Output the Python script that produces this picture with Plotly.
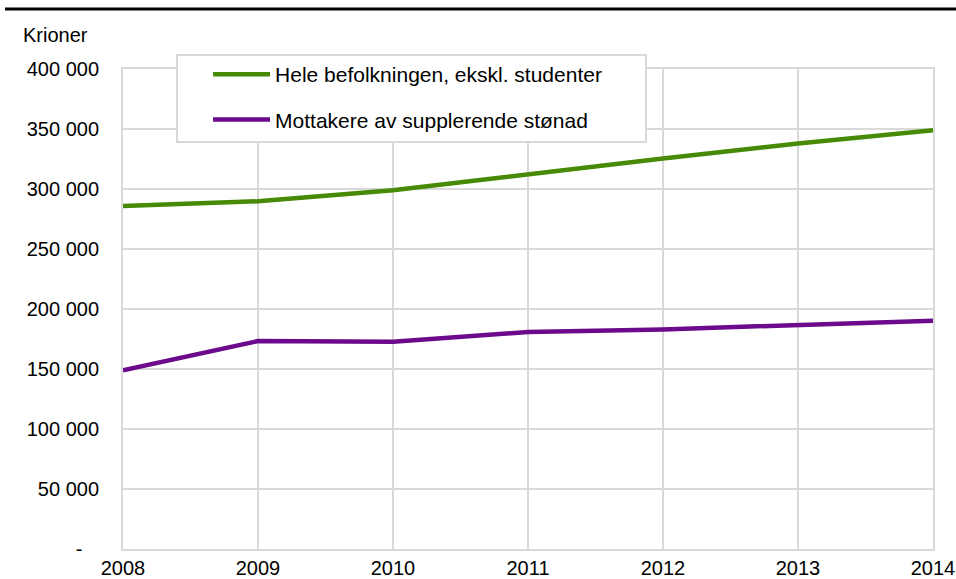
import plotly.graph_objects as go

# Data
years = [2008, 2009, 2010, 2011, 2012, 2013, 2014]
hele_befolkningen = [285800, 289800, 299000, 312500, 325500, 338000, 349000]
supplerende_stonad = [149000, 173300, 172700, 180800, 183000, 186700, 190300]

y_tickvals = [0, 50000, 100000, 150000, 200000, 250000, 300000, 350000, 400000]
y_ticktext = ['-\u00a0\u00a0\u00a0', '50 000', '100 000', '150 000', '200 000',
              '250 000', '300 000', '350 000', '400 000']

GRID = '#d9d9d9'
FONT = 'Liberation Sans, Arial, sans-serif'

fig = go.Figure()

fig.add_trace(go.Scatter(
    x=years, y=hele_befolkningen,
    mode='lines',
    name='Hele befolkningen, ekskl. studenter',
    legendgroup='a',
    line=dict(color='#468a05', width=4.5)
))
fig.add_trace(go.Scatter(
    x=years, y=supplerende_stonad,
    mode='lines',
    name='Mottakere av supplerende stønad',
    legendgroup='b',
    line=dict(color='#6b0a8c', width=4.5)
))

fig.update_layout(
    width=956, height=579,
    plot_bgcolor='white',
    paper_bgcolor='white',
    margin=dict(l=123, r=23, t=69, b=30),
    font=dict(family=FONT, size=19, color='#000000'),
    showlegend=True,
    legend=dict(
        x=0.105, y=1.031,
        xanchor='left', yanchor='top',
        bgcolor='rgba(0,0,0,0)',
        borderwidth=0,
        traceorder='grouped',
        tracegroupgap=15,
        font=dict(family=FONT, size=21),
        itemwidth=57
    ),
    xaxis=dict(
        range=[2008, 2014],
        tickvals=years,
        showgrid=True, gridcolor=GRID, gridwidth=2,
        showline=True, linecolor=GRID, linewidth=2, mirror=True,
        zeroline=False, automargin=False,
        ticks='outside', ticklen=0, tickcolor='rgba(0,0,0,0)',
        tickfont=dict(family=FONT, size=20)
    ),
    yaxis=dict(
        range=[0, 400000],
        tickvals=y_tickvals,
        ticktext=y_ticktext,
        showgrid=True, gridcolor=GRID, gridwidth=2,
        showline=True, linecolor=GRID, linewidth=2, mirror=True,
        zeroline=False, automargin=False,
        ticks='outside', ticklen=18, tickcolor='rgba(0,0,0,0)',
        tickfont=dict(family=FONT, size=20)
    )
)

# Legend frame (white box with grey border)
fig.add_shape(
    type='rect', xref='paper', yref='paper',
    x0=0.0667, x1=0.6457, y0=0.848, y1=1.029,
    fillcolor='white', line=dict(color=GRID, width=2),
    layer='above'
)

# Unit label above the y axis
fig.add_annotation(
    text='Krioner', xref='paper', yref='paper',
    x=-0.126, y=1.071, xanchor='left', yanchor='middle',
    showarrow=False, font=dict(family=FONT, size=20)
)

# Black rule across the top
fig.add_shape(
    type='line', xref='paper', yref='paper',
    x0=-0.1457, x1=1.03, y0=1.125, y1=1.125,
    line=dict(color='black', width=3)
)

# drop the default 8px body margin so the figure fills the window exactly
fig.write_html("out.html", config={'displayModeBar': False},
               post_script="document.body.style.margin='0px';")
